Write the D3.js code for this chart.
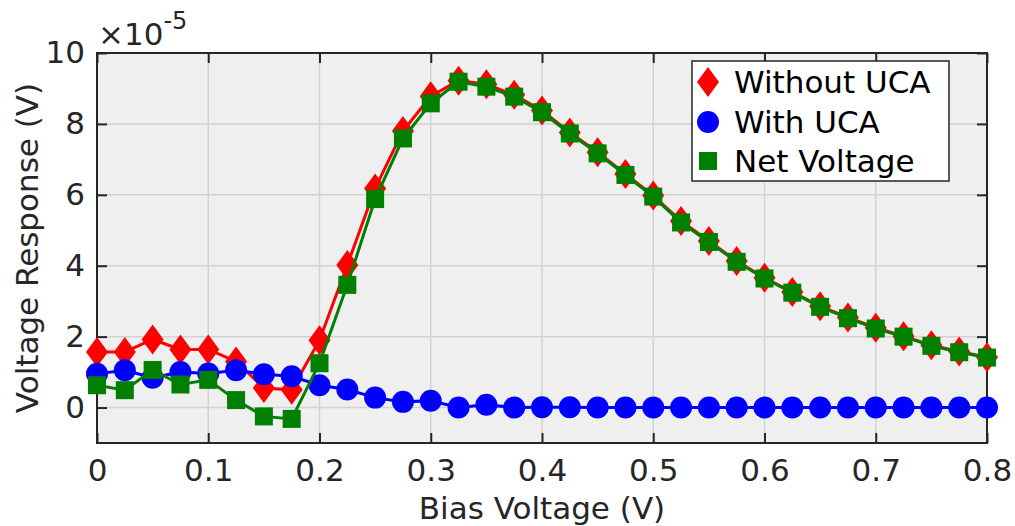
<!DOCTYPE html>
<html>
<head>
<meta charset="utf-8">
<script src="https://cdn.jsdelivr.net/npm/d3@7"></script>
<style>
  body { margin: 0; background: #fff; }
  text { font-family: "DejaVu Sans", sans-serif; }
</style>
</head>
<body>
<svg id="chart" width="1015" height="526"></svg>
<script>
// bias voltage (V)
var biasV = [0, 0.025, 0.05, 0.075, 0.1, 0.125, 0.15, 0.175, 0.2, 0.225, 0.25, 0.275, 0.3,
             0.325, 0.35, 0.375, 0.4, 0.425, 0.45, 0.475, 0.5, 0.525, 0.55, 0.575, 0.6,
             0.625, 0.65, 0.675, 0.7, 0.725, 0.75, 0.775, 0.8];

// voltage response, units of 1e-5 V
var withoutUCA = [1.57, 1.57, 1.92, 1.64, 1.64, 1.30, 0.55, 0.50, 1.90, 4.02, 6.18, 7.80, 8.78,
                  9.22, 9.12, 8.82, 8.38, 7.76, 7.20, 6.59, 5.98, 5.26, 4.70, 4.13, 3.66,
                  3.26, 2.86, 2.54, 2.25, 2.01, 1.76, 1.58, 1.42];
var withUCA = [0.95, 1.05, 0.84, 1.00, 0.96, 1.05, 0.94, 0.88, 0.63, 0.51, 0.28, 0.16, 0.19,
               0.00, 0.08, 0.00, 0.01, 0.01, 0, 0, 0, 0, 0, 0, 0,
               0, 0, 0, 0, 0, 0, 0, 0];
var netVoltage = [0.63, 0.49, 1.06, 0.65, 0.78, 0.21, -0.25, -0.32, 1.25, 3.46, 5.88, 7.59, 8.58,
                  9.19, 9.05, 8.77, 8.33, 7.73, 7.17, 6.56, 5.95, 5.22, 4.67, 4.11, 3.64,
                  3.24, 2.84, 2.52, 2.23, 2.00, 1.74, 1.56, 1.41];

var xTicks = [0, 0.1, 0.2, 0.3, 0.4, 0.5, 0.6, 0.7, 0.8];
var yTicks = [0, 2, 4, 6, 8, 10];
var seriesNames = ['Without UCA', 'With UCA', 'Net Voltage'];

var plotL = 97, plotR = 987, plotT = 53, plotB = 443;
var axisColor = '#262626';
var fontSize = 31;

var svg = d3.select('#chart');

var x = d3.scaleLinear().domain([0, 0.8]).range([plotL, plotR]);
var y = d3.scaleLinear().domain([-1, 10]).range([plotB, plotT]);

// axes background
svg.append('rect')
    .attr('x', plotL).attr('y', plotT)
    .attr('width', plotR - plotL).attr('height', plotB - plotT)
    .attr('fill', '#efefef');

// grid
svg.append('g').selectAll('line').data(xTicks.slice(1, -1)).enter().append('line')
    .attr('x1', function (d) { return x(d); }).attr('x2', function (d) { return x(d); })
    .attr('y1', plotT).attr('y2', plotB)
    .attr('stroke', '#d2d2d2').attr('stroke-width', 1.5);
svg.append('g').selectAll('line').data(yTicks.slice(0, -1)).enter().append('line')
    .attr('y1', function (d) { return y(d); }).attr('y2', function (d) { return y(d); })
    .attr('x1', plotL).attr('x2', plotR)
    .attr('stroke', '#d2d2d2').attr('stroke-width', 1.5);

// axes with inward ticks
var xAxis = d3.axisBottom(x).tickValues(xTicks).tickSizeInner(-10).tickSizeOuter(0).tickPadding(16)
    .tickFormat(function (d) { return d === 0 ? '0' : d3.format('.1f')(d); });
var xTop = d3.axisTop(x).tickValues(xTicks).tickSizeInner(-10).tickSizeOuter(0).tickFormat('');
var yAxis = d3.axisLeft(y).tickValues(yTicks).tickSizeInner(-10).tickSizeOuter(0).tickPadding(12)
    .tickFormat(d3.format('d'));
var yRight = d3.axisRight(y).tickValues(yTicks).tickSizeInner(-10).tickSizeOuter(0).tickFormat('');

function styleAxis(g) {
    g.select('.domain').remove();
    g.selectAll('line').attr('stroke', axisColor).attr('stroke-width', 2);
    g.selectAll('text').attr('fill', axisColor).attr('font-size', fontSize)
        .attr('font-family', '"DejaVu Sans", sans-serif');
}

svg.append('g').attr('transform', 'translate(0,' + plotB + ')').call(xAxis).call(styleAxis);
svg.append('g').attr('transform', 'translate(0,' + plotT + ')').call(xTop).call(styleAxis);
svg.append('g').attr('transform', 'translate(' + plotL + ',0)').call(yAxis).call(styleAxis);
svg.append('g').attr('transform', 'translate(' + plotR + ',0)').call(yRight).call(styleAxis);

// box
svg.append('rect')
    .attr('x', plotL).attr('y', plotT)
    .attr('width', plotR - plotL).attr('height', plotB - plotT)
    .attr('fill', 'none').attr('stroke', axisColor).attr('stroke-width', 2);

// exponent label
var expo = svg.append('text')
    .attr('x', plotL + 1).attr('y', 45)
    .attr('font-size', fontSize).attr('fill', axisColor);
expo.append('tspan').text('\u00d710');
expo.append('tspan').attr('dy', -16).attr('font-size', 24).text('-5');

// axis labels
svg.append('text')
    .attr('x', (plotL + plotR) / 2).attr('y', 519)
    .attr('text-anchor', 'middle')
    .attr('font-size', fontSize).attr('fill', axisColor)
    .text('Bias Voltage (V)');
svg.append('text')
    .attr('transform', 'translate(38,' + (plotT + plotB) / 2 + ') rotate(-90)')
    .attr('text-anchor', 'middle')
    .attr('font-size', fontSize).attr('fill', axisColor)
    .text('Voltage Response (V)');

// markers
var diamond = 'M0,-15L11,0L0,15L-11,0Z';

function drawSeries(vals, color, marker) {
    var pts = biasV.map(function (d, i) { return [d, vals[i]]; });
    var line = d3.line().x(function (d) { return x(d[0]); }).y(function (d) { return y(d[1]); });
    var g = svg.append('g');
    g.append('path').datum(pts)
        .attr('d', line)
        .attr('fill', 'none').attr('stroke', color).attr('stroke-width', 3);
    var m = g.selectAll('.m').data(pts).enter();
    if (marker === 'diamond') {
        m.append('path')
            .attr('d', diamond)
            .attr('transform', function (d) { return 'translate(' + x(d[0]) + ',' + y(d[1]) + ')'; })
            .attr('fill', color);
    } else if (marker === 'circle') {
        m.append('circle')
            .attr('cx', function (d) { return x(d[0]); })
            .attr('cy', function (d) { return y(d[1]); })
            .attr('r', 11).attr('fill', color);
    } else {
        m.append('rect')
            .attr('x', function (d) { return x(d[0]) - 9; })
            .attr('y', function (d) { return y(d[1]) - 9; })
            .attr('width', 18).attr('height', 18).attr('fill', color);
    }
}

drawSeries(withoutUCA, '#ff0000', 'diamond');
drawSeries(withUCA, '#0000ff', 'circle');
drawSeries(netVoltage, '#008000', 'square');

// legend
var lg = svg.append('g');
lg.append('rect')
    .attr('x', 692).attr('y', 61).attr('width', 257).attr('height', 120)
    .attr('fill', '#fff').attr('stroke', axisColor).attr('stroke-width', 1.5);
var legendY = [82, 122, 161];
var legendColors = ['#ff0000', '#0000ff', '#008000'];
lg.append('path').attr('d', diamond).attr('transform', 'translate(708,' + legendY[0] + ')').attr('fill', legendColors[0]);
lg.append('circle').attr('cx', 708).attr('cy', legendY[1]).attr('r', 11).attr('fill', legendColors[1]);
lg.append('rect').attr('x', 699).attr('y', legendY[2] - 9).attr('width', 18).attr('height', 18).attr('fill', legendColors[2]);
lg.selectAll('.lt').data(seriesNames).enter().append('text')
    .attr('x', 734)
    .attr('y', function (d, i) { return legendY[i] + 11; })
    .attr('font-size', fontSize).attr('fill', '#000')
    .text(function (d) { return d; });
</script>
</body>
</html>
